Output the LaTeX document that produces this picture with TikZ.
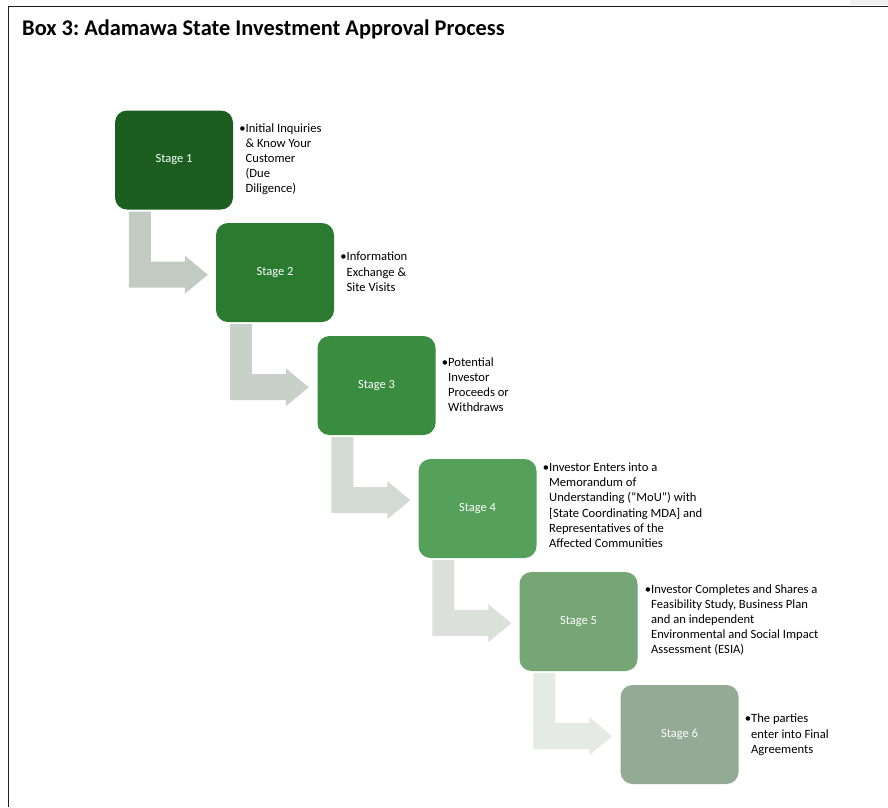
\documentclass[tikz,border=0pt]{standalone}
\usepackage{fontspec}
\setmainfont{Carlito}
\frenchspacing
\usetikzlibrary{calc}
\definecolor{sA}{RGB}{27,94,32}
\definecolor{sB}{RGB}{42,123,48}
\definecolor{sC}{RGB}{58,140,64}
\definecolor{sD}{RGB}{85,160,90}
\definecolor{sE}{RGB}{118,166,118}
\definecolor{sF}{RGB}{149,170,148}
\definecolor{aA}{RGB}{193,203,194}
\definecolor{aB}{RGB}{200,209,201}
\definecolor{aC}{RGB}{211,217,211}
\definecolor{aD}{RGB}{220,224,219}
\definecolor{aE}{RGB}{230,234,230}
\definecolor{frame}{RGB}{30,30,30}
\tikzset{
  stagebox/.style={fill=#1, draw=none, rounded corners=12pt, minimum width=118pt,
    minimum height=99pt, text=white, inner sep=0pt, font=\fontsize{12.5}{15}\selectfont},
  desc/.style={anchor=west, inner sep=0pt, font=\fontsize{12.6}{15.2}\selectfont, align=left},
  bentarrow/.style={fill=#1, draw=none}
}
\newcommand\bentarr[2]{%
  \fill[bentarrow=#2]
    ($(#1.south west)+(14,2)$) -- ($(#1.south west)+(36,2)$) --
    ($(#1.south west)+(36,52)$) -- ($(#1.south west)+(70,52)$) --
    ($(#1.south west)+(70,46)$) -- ($(#1.south west)+(93,65)$) --
    ($(#1.south west)+(70,84)$) -- ($(#1.south west)+(70,78)$) --
    ($(#1.south west)+(14,78)$) -- cycle;}
\begin{document}
\begin{tikzpicture}[x=1pt,y=-1pt]
\useasboundingbox (0,0) rectangle (888,807);
\fill[white] (0,0) rectangle (888,807);
\fill[gray!12] (850,0) rectangle (888,5);
\draw[line width=1.6pt, frame] (8.6,807) -- (8.6,6.6) -- (888,6.6);
\node[anchor=base west, inner sep=0pt, font=\bfseries\fontsize{22.4}{26}\selectfont] (title) at (22,35)
  {Box 3: Adamawa State Investment Approval Process};

\node[stagebox=sA] (s1) at (174,160) {Stage 1};
\node[stagebox=sB] (s2) at (275,272.5) {Stage 2};
\node[stagebox=sC] (s3) at (376.5,385.5) {Stage 3};
\node[stagebox=sD] (s4) at (477.5,508.5) {Stage 4};
\node[stagebox=sE] (s5) at (578.5,621.5) {Stage 5};
\node[stagebox=sF] (s6) at (679.5,734.5) {Stage 6};

\bentarr{s1}{aA}
\bentarr{s2}{aB}
\bentarr{s3}{aC}
\bentarr{s4}{aD}
\bentarr{s5}{aE}

\node[desc] (d1) at ($(s1.east)+(6,-0.5)$) {\begin{tabular}{@{}l@{}l@{}}•&Initial Inquiries\\&\& Know Your\\&Customer\\&(Due\\&Diligence)\end{tabular}};
\node[desc] (d2) at ($(s2.east)+(6,0.5)$) {\begin{tabular}{@{}l@{}l@{}}•&Information\\&Exchange \&\\&Site Visits\end{tabular}};
\node[desc] (d3) at ($(s3.east)+(6,0.5)$) {\begin{tabular}{@{}l@{}l@{}}•&Potential\\&Investor\\&Proceeds or\\&Withdraws\end{tabular}};
\node[desc] (d4) at ($(s4.east)+(6,-2)$) {\begin{tabular}{@{}l@{}l@{}}•&Investor Enters into a\\&Memorandum of\\&Understanding (“MoU”) with\\&[State Coordinating MDA] and\\&Representatives of the\\&Affected Communities\end{tabular}};
\node[desc] (d5) at ($(s5.east)+(7,-1)$) {\begin{tabular}{@{}l@{}l@{}}•&Investor Completes and Shares a\\&Feasibility Study, Business Plan\\&and an independent\\&Environmental and Social Impact\\&Assessment (ESIA)\end{tabular}};
\node[desc] (d6) at ($(s6.east)+(6,0.5)$) {\begin{tabular}{@{}l@{}l@{}}•&The parties\\&enter into Final\\&Agreements\end{tabular}};
\end{tikzpicture}
\end{document}
